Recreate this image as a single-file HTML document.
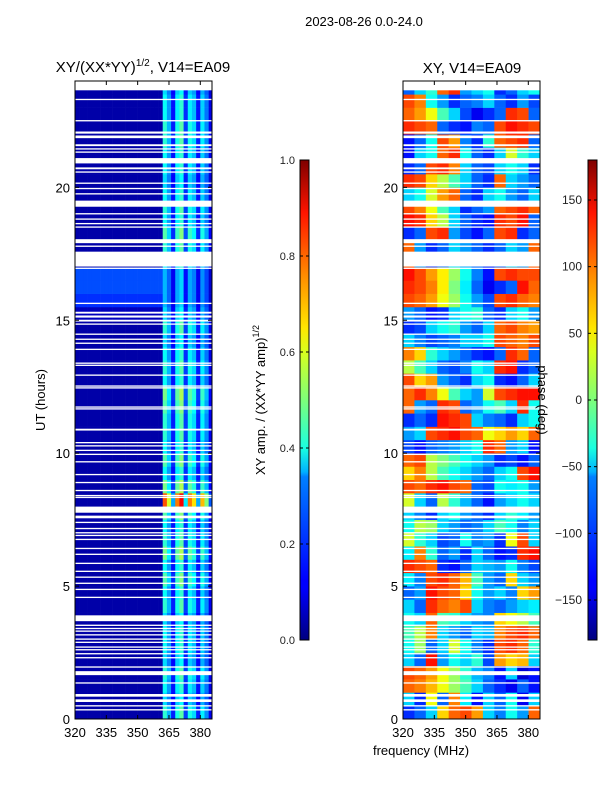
<!DOCTYPE html>
<html><head><meta charset="utf-8">
<style>
html,body{margin:0;padding:0;background:#fff;}
svg{display:block;font-family:"Liberation Sans",sans-serif;}
</style></head>
<body>
<svg id="fig" width="600" height="800" viewBox="0 0 600 800" xmlns="http://www.w3.org/2000/svg">
<defs>
<linearGradient id="jet" x1="0" y1="1" x2="0" y2="0">
<stop offset="0" stop-color="#00007f"/><stop offset="0.11" stop-color="#0000ff"/>
<stop offset="0.125" stop-color="#0000ff"/><stop offset="0.34" stop-color="#0080ff"/>
<stop offset="0.35" stop-color="#00b0ff"/><stop offset="0.4" stop-color="#1affe0"/>
<stop offset="0.5" stop-color="#7dff7a"/><stop offset="0.6" stop-color="#d8ff1e"/>
<stop offset="0.65" stop-color="#ffe600"/><stop offset="0.75" stop-color="#ff9400"/>
<stop offset="0.89" stop-color="#ff1400"/><stop offset="1" stop-color="#7f0000"/>
</linearGradient>
</defs>
<text x="364" y="26" font-size="13" text-anchor="middle">2023-08-26 0.0-24.0</text>
<g id="left"></g>
<g id="right"></g>
<g id="cb1"></g>
<g id="cb2"></g>
</svg>
<script>
// ---------------- DATA ----------------
const hourTicks = [0,5,10,15,20];
const freqTicks = [320,335,350,365,380];
const ampTicks = [0.0,0.2,0.4,0.6,0.8,1.0];
const phaseTicks = [-150,-100,-50,0,50,100,150];
// amplitude channels (2 MHz) starting at 320
const ampChanStart = [320,322,324,326,328,330,332,334,336,338,340,342,344,346,348,350,352,354,356,358,360,362,364,366,368,370,372,374,376,378,380,382,384];
const colAmp = [0,0,0,0,0,0,0,0,0,0,0,0,0,0,0,0,0,0,0,0,0,0.38,0.28,0.14,0.36,0.42,0.17,0.36,0.31,0.14,0.33,0.24,0.1];
// per half-hour rows (0..24h)
const leftLevel = [0.04,0.04,0.04,0.04,0.04,0.04,0.04,0.04,0.04,0.04,0.04,0.04,0.04,0.04,0.04,0.04,0.04,0.04,0.04,0.04,0.04,0.04,0.04,0.04,0.04,0.04,0.04,0.04,0.04,0.04,0.06,0.17,0.2,0.2,0.04,0.04,0.04,0.04,0.04,0.04,0.04,0.04,0.04,0.04,0.04,0.04,0.04,0.04];
const rowGain = [1.1,0.9,1.0,1.1,0.9,1.0,1.0,0.9,1.1,1.0,1.2,1.0,1.3,1.1,1.0,1.2,2.1,1.3,1.0,1.2,1.0,1.1,1.1,1.2,1.3,1.0,1.1,1.0,0.9,1.1,0.9,0.8,0.8,0.8,1.0,1.1,1.2,1.0,1.1,1.0,0.9,1.0,1.0,1.1,1.1,1.0,1.0,0.9];
// phase channels (12 cols spanning 320..385.6)
const phaseChanStart = [320,325.47,330.93,336.4,341.87,347.33,352.8,358.27,363.73,369.2,374.67,380.13];
const phase = [
[-120,-100,-60,60,100,110,80,-60,-90,-40,-80,100],
[-60,-120,40,-100,90,-50,-130,-60,-100,-40,-140,-60],
[100,90,70,40,10,-20,-60,-100,-120,-140,-100,-130],
[110,100,80,40,10,-30,-70,-90,-130,-60,-150,-130],
[-60,-100,130,-80,-40,-60,-30,-110,80,60,70,-60],
[-40,10,-100,-60,30,-40,-90,-120,110,120,100,-30],
[-20,20,90,-60,-80,-100,-60,-70,90,110,120,100],
[-40,-60,100,-20,-30,-60,-80,-90,60,40,20,-20],
[-60,-100,120,100,90,110,-60,-90,-100,-80,-60,-50],
[-100,-80,130,110,100,60,-40,-80,-60,-90,60,80],
[-50,-90,110,120,100,70,-20,-80,-100,60,-60,-80],
[120,110,100,-120,-130,-100,-60,-70,-80,-40,-90,-110],
[-50,90,-30,-100,-80,-120,-60,-100,-130,-120,120,130],
[30,-30,-60,-110,-100,-40,-90,-80,-120,40,110,-60],
[-40,20,10,-60,-80,-100,-90,-60,-20,-40,-90,-60],
[-60,-90,-120,-60,-40,-80,-100,-120,-60,-30,-50,-80],
[30,-60,-100,20,-30,-70,-100,-130,-80,-60,-40,-60],
[110,100,120,130,110,100,-100,-110,-40,-50,-40,-80],
[60,90,20,-20,-40,-60,-80,-100,-60,-40,110,130],
[100,110,20,0,-20,-40,-60,-80,-120,-110,-130,-100],
[-110,-130,-100,-90,-80,-60,-40,120,100,-80,-60,-130],
[-80,-60,110,120,130,110,100,40,60,80,60,100],
[-120,-100,-120,130,120,110,-60,-90,-100,-120,-60,-40],
[100,-80,-100,120,110,-100,-80,-40,-20,-60,120,-40],
[100,120,90,40,-20,-60,-80,30,110,120,130,130],
[110,60,80,-80,-100,-120,-60,-40,-120,-130,-100,-60],
[20,-20,-60,-100,-110,-90,-40,-60,120,130,-120,-100],
[90,60,-30,-60,-80,-100,-120,-130,-100,120,100,-100],
[-60,-90,-110,-100,-90,-60,-60,-40,110,100,90,110],
[-120,-110,-60,-40,-30,-80,-100,-60,100,110,90,80],
[-80,-100,-130,-120,-60,-40,-30,-100,-120,-60,-40,-80],
[110,100,80,40,10,-40,-80,-110,110,120,100,90],
[120,110,90,50,0,-50,-100,-140,-120,-100,130,100],
[130,110,80,50,10,-40,-90,-130,110,120,110,110],
[100,-80,-120,-100,-60,-80,-100,-120,-100,-60,-80,100],
[100,-80,-120,-100,-60,-80,-100,-120,-100,-60,-80,100],
[-120,-100,110,120,-80,-110,-130,-100,110,120,-120,-100],
[130,120,60,20,-60,-100,-120,-130,120,110,130,-100],
[110,90,40,-20,-60,-120,-100,-80,100,110,120,100],
[-60,-40,30,80,100,-100,-120,-60,-40,-80,-100,-60],
[120,110,60,20,-20,-60,-100,-120,100,-60,-80,-100],
[-120,-100,110,120,90,-60,-100,-110,-60,-40,-60,-120],
[-130,-60,-40,100,120,-40,-100,-120,-60,30,-30,-60],
[-130,-100,-40,110,80,-90,-120,-30,100,110,120,-100],
[120,110,100,-100,-120,-130,-90,-100,110,130,120,110],
[100,80,40,-20,-60,-110,-140,-120,-100,120,110,-100],
[110,90,-40,-80,-120,-100,-90,-60,-100,-120,-80,-110],
[-100,-60,-30,100,120,-80,-60,-40,-120,-100,-60,-40]
];
// flagged (white) time ranges in hours
const flagStart = [0.32,0.47,0.64,0.84,1.33,1.65,1.93,2.28,2.43,2.58,2.68,2.86,2.98,3.14,3.28,3.38,3.5,3.68,4.55,4.85,5.08,5.31,5.53,5.83,6.17,6.39,6.73,6.88,6.98,7.14,7.37,7.55,7.76,8.31,8.38,8.57,8.87,9.17,9.65,9.93,10.08,10.25,10.37,10.85,11.64,11.71,12.43,12.5,12.91,13.28,13.36,13.88,14.11,14.26,14.45,14.83,14.95,15.1,15.25,15.61,16.93,17.02,17.76,17.9,18.48,18.61,18.78,18.98,19.27,19.73,19.93,20.13,20.55,20.68,20.9,21.3,21.42,21.55,21.85,22.02,22.48,23.28,23.65];
const flagEnd   = [0.37,0.52,0.74,0.94,1.38,1.8,1.98,2.33,2.48,2.63,2.73,2.91,3.03,3.19,3.33,3.43,3.55,3.9,4.6,4.9,5.13,5.36,5.58,5.88,6.22,6.44,6.78,6.93,7.03,7.19,7.42,7.65,7.99,8.36,8.43,8.62,8.92,9.22,9.7,9.98,10.13,10.3,10.42,10.92,11.69,11.76,12.48,12.55,12.96,13.33,13.41,13.93,14.16,14.31,14.5,14.88,15.02,15.18,15.32,15.66,16.98,17.58,17.81,18.05,18.53,18.66,18.83,19.03,19.5,19.78,19.98,20.18,20.6,20.75,21.1,21.35,21.47,21.62,21.95,22.1,22.53,23.33,24.0];

// ---------------- HELPERS ----------------
const NS = "http://www.w3.org/2000/svg";
function mk(tag, attrs, parent){const e=document.createElementNS(NS,tag);for(const k in attrs)e.setAttribute(k,attrs[k]);parent.appendChild(e);return e;}
function jet(v){v=Math.max(0,Math.min(1,v));
 const r=Math.max(0,Math.min(1,Math.min(4*v-1.5,-4*v+4.5)));
 const g=Math.max(0,Math.min(1,Math.min(4*v-0.5,-4*v+3.5)));
 const b=Math.max(0,Math.min(1,Math.min(4*v+0.5,-4*v+2.5)));
 return `rgb(${Math.round(r*255)},${Math.round(g*255)},${Math.round(b*255)})`;}
const F0=320,F1=385.6,H0=0,H1=24,PW=137,PY0=719,PY1=81;
function yOf(h){return PY0-(h-H0)/(H1-H0)*(PY0-PY1);}
function xOf(x0,f){return x0+(f-F0)/(F1-F0)*PW;}

function panel(g,x0,kind){
 const nRows=48,rh=(H1-H0)/nRows;
 for(let r=0;r<nRows;r++){
  const ya=yOf(r*rh+rh), yb=yOf(r*rh);
  if(kind==='amp'){
   for(let c=0;c<ampChanStart.length;c++){
    const fa=ampChanStart[c], fb=Math.min(F1,c+1<ampChanStart.length?ampChanStart[c+1]:F1);
    const v = fa<362 ? leftLevel[r] : Math.min(1,colAmp[c]*rowGain[r]);
    const e=mk('rect',{x:xOf(x0,fa),y:ya,width:xOf(x0,fb)-xOf(x0,fa)+0.3,height:yb-ya+0.3,fill:jet(v)},g);
    
    
   }
  } else {
   for(let c=0;c<phaseChanStart.length;c++){
    const fa=phaseChanStart[c], fb=c+1<phaseChanStart.length?phaseChanStart[c+1]:F1;
    const v=(phase[r][c]+180)/360;
    const e=mk('rect',{x:xOf(x0,fa),y:ya,width:xOf(x0,fb)-xOf(x0,fa)+0.3,height:yb-ya+0.3,fill:jet(v)},g);
    
    
   }
  }
 }
 for(let i=0;i<flagStart.length;i++){
  const ya=yOf(flagEnd[i]), yb=yOf(flagStart[i]);
  const e=mk('rect',{x:x0,y:ya,width:PW,height:Math.max(1.2,yb-ya),fill:'#fff'},g);
  
  
 }
 mk('rect',{x:x0,y:PY1,width:PW,height:PY0-PY1,fill:'none',stroke:'#000','stroke-width':1},g);
 for(const h of hourTicks){
  const y=yOf(h);
  mk('line',{x1:x0,y1:y,x2:x0+4,y2:y,stroke:'#000'},g);
  mk('line',{x1:x0+PW,y1:y,x2:x0+PW-4,y2:y,stroke:'#000'},g);
  const t=mk('text',{x:x0-5,y:y+5,'font-size':13,'text-anchor':'end'},g);t.textContent=h;
  
  
 }
 for(const f of freqTicks){
  const x=xOf(x0,f);
  mk('line',{x1:x,y1:PY0,x2:x,y2:PY0-4,stroke:'#000'},g);
  mk('line',{x1:x,y1:PY1,x2:x,y2:PY1+4,stroke:'#000'},g);
  const t=mk('text',{x:x,y:737,'font-size':13,'text-anchor':'middle'},g);t.textContent=f;
  
  
 }
}
panel(document.getElementById('left'),75,'amp');
panel(document.getElementById('right'),403,'phase');

function colorbar(g,x0,vmin,vmax,ticks,lx,fs){
 mk('rect',{x:x0,y:160,width:9,height:480,fill:'url(#jet)',stroke:'#000','stroke-width':1},g);
 for(const v of ticks){
  const y=640-(v-vmin)/(vmax-vmin)*480;
  mk('line',{x1:x0,y1:y,x2:x0+3,y2:y,stroke:'#000'},g);
  mk('line',{x1:x0+9,y1:y,x2:x0+6,y2:y,stroke:'#000'},g);
  const t=mk('text',{x:lx,y:y+4,'font-size':fs,'text-anchor':'end',fill:'#222'},g);
  t.textContent=(vmax===1?v.toFixed(1):String(v).replace('-','\u2212'));
  
  
 }
}
colorbar(document.getElementById('cb1'),300,0,1,ampTicks,295,11);
colorbar(document.getElementById('cb2'),588,-180,180,phaseTicks,582,12);
</script>
<div style="position:absolute;left:0;top:0;width:600px;height:800px;pointer-events:none;">
<svg width="600" height="800" style="position:absolute;left:0;top:0" font-family="Liberation Sans, sans-serif">
<text x="143" y="72" font-size="15" text-anchor="middle">XY/(XX*YY)<tspan dy="-6" font-size="10">1/2</tspan><tspan dy="6">, V14=EA09</tspan></text>
<text x="472" y="73" font-size="15" text-anchor="middle">XY, V14=EA09</text>
<text transform="translate(45,400) rotate(-90)" font-size="13" text-anchor="middle">UT (hours)</text>
<text x="421" y="755" font-size="13" text-anchor="middle">frequency (MHz)</text>
<text transform="translate(265,400) rotate(-90)" font-size="13" text-anchor="middle">XY amp. / (XX*YY amp)<tspan dy="-6" font-size="9">1/2</tspan></text>
<text transform="translate(538,400) rotate(90)" font-size="13" text-anchor="middle">phase (deg)</text>
</svg>
</div>
</body></html>
